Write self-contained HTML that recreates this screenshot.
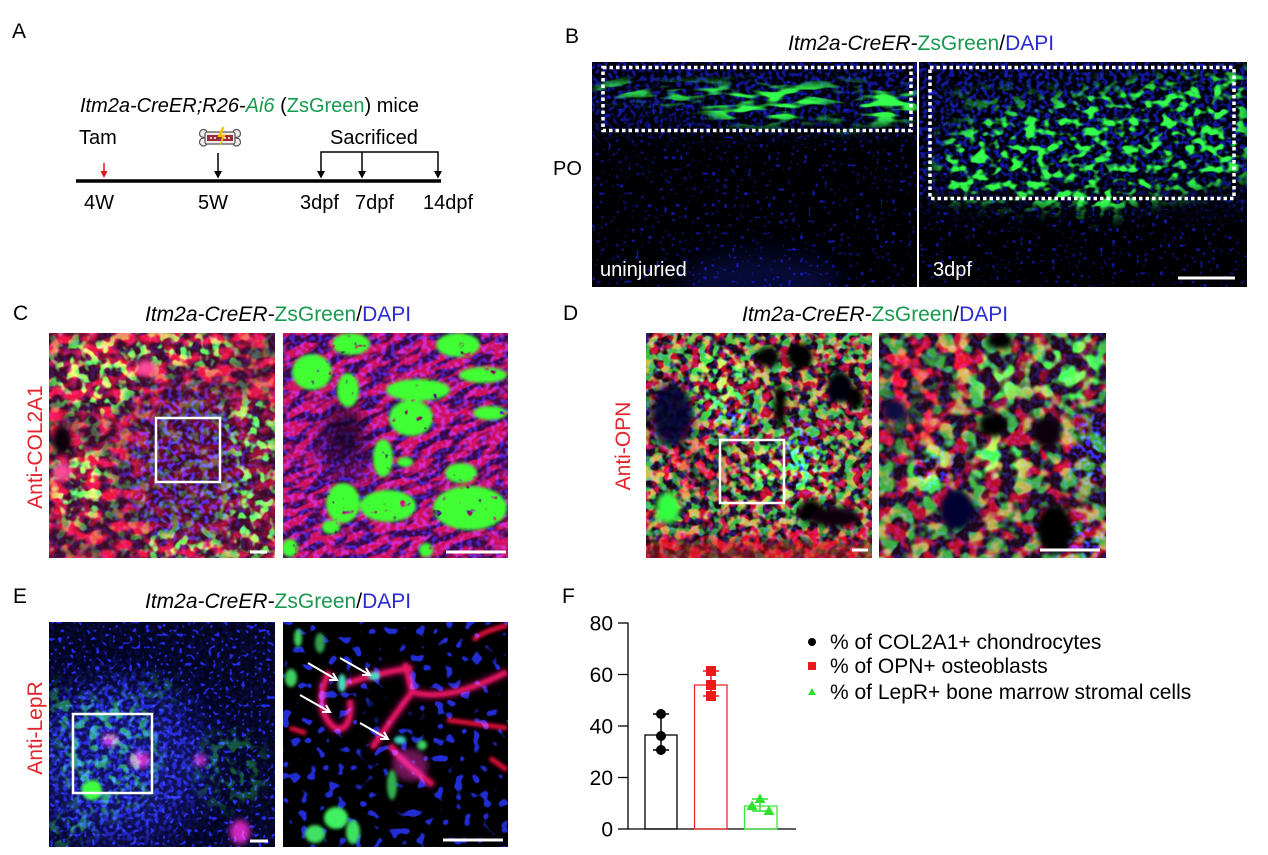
<!DOCTYPE html>
<html><head><meta charset="utf-8"><style>
html,body{margin:0;padding:0;background:#fff;}
svg{display:block;font-family:"Liberation Sans",Arial,sans-serif;}
</style></head><body>
<svg width="1268" height="855" viewBox="0 0 1268 855" xmlns="http://www.w3.org/2000/svg">
<defs>
 <filter id="bl2" x="-50%" y="-50%" width="200%" height="200%"><feGaussianBlur stdDeviation="1.5"/></filter>
 <filter id="bl3" x="-50%" y="-50%" width="200%" height="200%"><feGaussianBlur stdDeviation="3"/></filter>
 <filter id="bl5" x="-50%" y="-50%" width="200%" height="200%"><feGaussianBlur stdDeviation="5"/></filter>
 <filter id="bl8" x="-50%" y="-50%" width="200%" height="200%"><feGaussianBlur stdDeviation="8"/></filter>
 <filter id="bl12" x="-50%" y="-50%" width="200%" height="200%"><feGaussianBlur stdDeviation="12"/></filter>
 <filter id="bl20" x="-50%" y="-50%" width="200%" height="200%"><feGaussianBlur stdDeviation="20"/></filter>
 <linearGradient id="vfade" x1="0" y1="0" x2="0" y2="1"><stop offset="0" stop-color="#fff"/><stop offset=".6" stop-color="#fff"/><stop offset="1" stop-color="#000"/></linearGradient>

 <filter id="bDots" x="0" y="0" width="1" height="1" color-interpolation-filters="sRGB">
  <feTurbulence type="fractalNoise" baseFrequency="0.25" numOctaves="1" seed="4"/>
  <feColorMatrix type="matrix" values="0 0 0 0 .1  0 0 0 0 .13  0 0 0 0 .95  0 0 0 14 -9.1"/>
 </filter>
 <filter id="bDotsE" x="0" y="0" width="1" height="1" color-interpolation-filters="sRGB">
  <feTurbulence type="fractalNoise" baseFrequency="0.24" numOctaves="1" seed="6"/>
  <feColorMatrix type="matrix" values="0 0 0 0 .12  0 0 0 0 .15  0 0 0 0 .95  0 0 0 10 -6"/>
 </filter>
 <filter id="bDense" x="0" y="0" width="1" height="1" color-interpolation-filters="sRGB">
  <feTurbulence type="fractalNoise" baseFrequency="0.22" numOctaves="1" seed="9"/>
  <feColorMatrix type="matrix" values="0 0 0 0 .12  0 0 0 0 .15  0 0 0 0 1  0 0 0 6 -2.8"/>
 </filter>
 <filter id="bBig" x="0" y="0" width="1" height="1" color-interpolation-filters="sRGB">
  <feTurbulence type="fractalNoise" baseFrequency="0.11" numOctaves="1" seed="2"/>
  <feColorMatrix type="matrix" values="0 0 0 0 .15  0 0 0 0 .2  0 0 0 0 .95  0 0 0 14 -8.3"/>
 </filter>
 <filter id="gStreak" x="0" y="0" width="1" height="1" color-interpolation-filters="sRGB">
  <feTurbulence type="fractalNoise" baseFrequency="0.03 0.12" numOctaves="2" seed="5"/>
  <feColorMatrix type="matrix" values="0 0 0 0 .2  0 0 0 0 1  0 0 0 0 .3  0 0 0 7 -3.4"/>
 </filter>
 <filter id="gB" x="0" y="0" width="1" height="1" color-interpolation-filters="sRGB">
  <feTurbulence type="fractalNoise" baseFrequency="0.08 0.11" numOctaves="2" seed="7"/>
  <feColorMatrix type="matrix" values="0 0 0 0 .2  0 0 0 0 1  0 0 0 0 .3  0 0 0 6 -3.0"/>
 </filter>
 <filter id="gCell" x="0" y="0" width="1" height="1" color-interpolation-filters="sRGB">
  <feTurbulence type="fractalNoise" baseFrequency="0.1" numOctaves="2" seed="3"/>
  <feColorMatrix type="matrix" values="0 0 0 0 .2  0 0 0 0 1  0 0 0 0 .25  0 0 0 6 -2.9"/>
 </filter>
 <filter id="gBig" x="0" y="0" width="1" height="1" color-interpolation-filters="sRGB">
  <feTurbulence type="fractalNoise" baseFrequency="0.12" numOctaves="2" seed="11"/>
  <feColorMatrix type="matrix" values="0 0 0 0 .25  0 0 0 0 1  0 0 0 0 .2  0 0 0 8 -1.6"/>
 </filter>
 <filter id="rTex" x="0" y="0" width="1" height="1" color-interpolation-filters="sRGB">
  <feTurbulence type="fractalNoise" baseFrequency="0.06 0.09" numOctaves="2" seed="8"/>
  <feColorMatrix type="matrix" values="0 0 0 0 .92  0 0 0 0 .05  0 0 0 0 .12  0 0 0 4 -1.6"/>
 </filter>
 <filter id="rStreak" x="0" y="0" width="1" height="1" color-interpolation-filters="sRGB">
  <feTurbulence type="fractalNoise" baseFrequency="0.05 0.13" numOctaves="2" seed="12"/>
  <feColorMatrix type="matrix" values="0 0 0 0 .95  0 0 0 0 .05  0 0 0 0 .15  0 0 0 5 -1.9"/>
 </filter>
 <filter id="gD" x="0" y="0" width="1" height="1" color-interpolation-filters="sRGB">
  <feTurbulence type="fractalNoise" baseFrequency="0.11" numOctaves="2" seed="13"/>
  <feColorMatrix type="matrix" values="0 0 0 0 .2  0 0 0 0 1  0 0 0 0 .25  0 0 0 6 -2.6"/>
 </filter>
 <filter id="rD" x="0" y="0" width="1" height="1" color-interpolation-filters="sRGB">
  <feTurbulence type="fractalNoise" baseFrequency="0.1" numOctaves="2" seed="14"/>
  <feColorMatrix type="matrix" values="0 0 0 0 .95  0 0 0 0 .04  0 0 0 0 .1  0 0 0 6 -2.6"/>
 </filter>
 <filter id="gDR" x="0" y="0" width="1" height="1" color-interpolation-filters="sRGB">
  <feTurbulence type="fractalNoise" baseFrequency="0.065" numOctaves="2" seed="15"/>
  <feColorMatrix type="matrix" values="0 0 0 0 .2  0 0 0 0 1  0 0 0 0 .25  0 0 0 6 -2.7"/>
 </filter>
 <filter id="rDR" x="0" y="0" width="1" height="1" color-interpolation-filters="sRGB">
  <feTurbulence type="fractalNoise" baseFrequency="0.065" numOctaves="2" seed="16"/>
  <feColorMatrix type="matrix" values="0 0 0 0 .95  0 0 0 0 .04  0 0 0 0 .1  0 0 0 6 -2.7"/>
 </filter>

 <clipPath id="cB1"><rect x="592" y="62" width="325" height="225"/></clipPath>
 <clipPath id="cB2"><rect x="919" y="62" width="328" height="225"/></clipPath>
 <clipPath id="cC1"><rect x="49" y="333" width="226" height="225"/></clipPath>
 <clipPath id="cC2"><rect x="283" y="333" width="225" height="225"/></clipPath>
 <clipPath id="cD1"><rect x="646" y="333" width="226" height="225"/></clipPath>
 <clipPath id="cD2"><rect x="879" y="333" width="227" height="225"/></clipPath>
 <clipPath id="cE1"><rect x="49" y="622" width="226" height="225"/></clipPath>
 <clipPath id="cE2"><rect x="283" y="622" width="225" height="225"/></clipPath>

 <mask id="mB1g"><g filter="url(#bl5)" fill="#fff">
  <ellipse cx="770" cy="93" rx="150" ry="10"/>
  <ellipse cx="765" cy="110" rx="60" ry="14"/>
  <ellipse cx="880" cy="105" rx="40" ry="20"/>
  <ellipse cx="620" cy="90" rx="25" ry="8"/>
  <ellipse cx="680" cy="103" rx="30" ry="8" fill="#aaa"/>
  <ellipse cx="840" cy="122" rx="30" ry="8" fill="#888"/>
 </g></mask>
 <mask id="mB1b"><rect x="592" y="62" width="325" height="85" fill="url(#vfade)"/></mask>
 <mask id="mB2g"><g filter="url(#bl8)">
  <polygon fill="#fff" points="935,140 990,112 1050,94 1150,80 1250,68 1250,178 1200,192 1140,202 1105,218 1050,208 990,202 940,198"/>
  <ellipse cx="1000" cy="100" rx="60" ry="12" fill="#666"/>
 </g></mask>
 <mask id="mB2b"><rect x="919" y="62" width="328" height="165" fill="url(#vfade)"/></mask>

 <mask id="mC1r"><rect x="49" y="333" width="226" height="225" fill="#fff"/><g filter="url(#bl12)"><ellipse cx="190" cy="465" rx="55" ry="75" fill="#555"/><ellipse cx="250" cy="480" rx="25" ry="80" fill="#888"/></g></mask>
 <mask id="mC1b"><rect x="49" y="333" width="226" height="225" fill="#444"/><g filter="url(#bl12)"><ellipse cx="185" cy="465" rx="60" ry="80" fill="#ddd"/></g></mask>
 <mask id="mC1g"><rect x="49" y="333" width="226" height="225" fill="#555"/><g filter="url(#bl8)" fill="#fff">
  <rect x="228" y="400" width="50" height="160"/>
  <ellipse cx="95" cy="375" rx="45" ry="40"/>
  <ellipse cx="180" cy="350" rx="60" ry="18"/>
  <ellipse cx="80" cy="485" rx="30" ry="40"/>
  <ellipse cx="180" cy="548" rx="50" ry="15"/>
  <ellipse cx="190" cy="465" rx="48" ry="68" fill="#555"/>
 </g></mask>
 <mask id="mC2g"><g filter="url(#bl2)" fill="#fff">
  <ellipse cx="312" cy="372" rx="20" ry="18"/>
  <ellipse cx="351" cy="344" rx="19" ry="11"/>
  <ellipse cx="348" cy="390" rx="11" ry="17"/>
  <ellipse cx="418" cy="390" rx="32" ry="11"/>
  <ellipse cx="411" cy="418" rx="22" ry="18"/>
  <ellipse cx="383" cy="458" rx="10" ry="19"/>
  <ellipse cx="458" cy="345" rx="22" ry="12"/>
  <ellipse cx="483" cy="375" rx="24" ry="8"/>
  <ellipse cx="490" cy="413" rx="17" ry="7"/>
  <ellipse cx="461" cy="473" rx="16" ry="10"/>
  <ellipse cx="470" cy="508" rx="37" ry="22"/>
  <ellipse cx="343" cy="503" rx="17" ry="20"/>
  <ellipse cx="388" cy="506" rx="28" ry="16"/>
  <ellipse cx="331" cy="527" rx="9" ry="7"/>
  <ellipse cx="290" cy="548" rx="8" ry="9"/>
  <ellipse cx="426" cy="550" rx="7" ry="7"/>
  <ellipse cx="405" cy="462" rx="8" ry="5"/>
 </g></mask>
 <mask id="mC2r"><rect x="233" y="283" width="325" height="325" fill="#ccc"/><g filter="url(#bl8)"><ellipse cx="345" cy="430" rx="25" ry="35" fill="#333"/></g></mask>

 <mask id="mD1g"><rect x="646" y="333" width="226" height="225" fill="#bbb"/><g filter="url(#bl8)">
  <ellipse cx="722" cy="385" rx="30" ry="35" fill="#fff"/>
  <ellipse cx="790" cy="470" rx="40" ry="30" fill="#fff"/>
  <ellipse cx="672" cy="415" rx="25" ry="35" fill="#333"/>
  <ellipse cx="700" cy="470" rx="25" ry="25" fill="#555"/>
  <rect x="646" y="535" width="226" height="25" fill="#444"/>
 </g></mask>
 <mask id="mD1r"><rect x="646" y="333" width="226" height="225" fill="#ccc"/><g filter="url(#bl8)">
  <ellipse cx="690" cy="470" rx="30" ry="30" fill="#fff"/>
  <ellipse cx="672" cy="415" rx="22" ry="30" fill="#222"/>
  <ellipse cx="800" cy="440" rx="20" ry="30" fill="#666"/>
  <rect x="646" y="535" width="226" height="25" fill="#fff"/>
 </g></mask>
 <mask id="mD1b"><rect x="646" y="333" width="226" height="225" fill="#666"/><g filter="url(#bl8)">
  <ellipse cx="733" cy="422" rx="18" ry="18" fill="#fff"/>
  <ellipse cx="800" cy="455" rx="15" ry="35" fill="#fff"/>
  <ellipse cx="672" cy="415" rx="22" ry="32" fill="#aaa"/>
 </g></mask>
 <mask id="mD2r"><rect x="879" y="333" width="227" height="225" fill="#bbb"/><g filter="url(#bl8)">
  <ellipse cx="910" cy="400" rx="30" ry="60" fill="#fff"/>
  <ellipse cx="1055" cy="450" rx="18" ry="25" fill="#fff"/>
  <ellipse cx="960" cy="360" rx="25" ry="20" fill="#fff"/>
  <ellipse cx="1000" cy="380" rx="30" ry="20" fill="#444"/>
  <ellipse cx="1070" cy="365" rx="30" ry="25" fill="#444"/>
  <ellipse cx="1092" cy="450" rx="20" ry="35" fill="#333"/>
 </g></mask>
 <mask id="mD2g"><rect x="879" y="333" width="227" height="225" fill="#aaa"/><g filter="url(#bl8)">
  <ellipse cx="1000" cy="378" rx="28" ry="22" fill="#fff"/>
  <ellipse cx="998" cy="460" rx="25" ry="28" fill="#fff"/>
  <ellipse cx="1070" cy="370" rx="35" ry="35" fill="#fff"/>
  <ellipse cx="930" cy="470" rx="20" ry="25" fill="#fff"/>
  <ellipse cx="910" cy="400" rx="25" ry="50" fill="#555"/>
 </g></mask>
 <mask id="mD2b"><rect x="879" y="333" width="227" height="225" fill="#555"/><g filter="url(#bl8)">
  <ellipse cx="1090" cy="450" rx="18" ry="40" fill="#fff"/>
  <ellipse cx="1070" cy="540" rx="35" ry="20" fill="#fff"/>
  <ellipse cx="935" cy="470" rx="20" ry="20" fill="#ddd"/>
 </g></mask>

 <mask id="mE1g"><rect x="49" y="622" width="226" height="225" fill="#000"/><g filter="url(#bl8)">
  <ellipse cx="110" cy="755" rx="50" ry="60" fill="#999"/>
  <ellipse cx="62" cy="710" rx="12" ry="28" fill="#888"/>
  <ellipse cx="230" cy="770" rx="35" ry="40" fill="#555"/>
  <ellipse cx="160" cy="690" rx="22" ry="12" fill="#555"/>
  <ellipse cx="70" cy="830" rx="22" ry="18" fill="#888"/>
 </g></mask>
 <mask id="mE1b"><rect x="49" y="622" width="226" height="225" fill="#222"/><g filter="url(#bl12)">
  <ellipse cx="120" cy="760" rx="80" ry="85" fill="#ccc"/>
 </g></mask>
 <mask id="mE2b"><rect x="283" y="622" width="225" height="225" fill="#ddd"/><g filter="url(#bl5)">
  <ellipse cx="388" cy="708" rx="20" ry="17" fill="#000"/>
 </g></mask>
</defs>

<rect x="0" y="0" width="1268" height="855" fill="#fff"/>

<!-- PANEL A -->
<text x="12" y="38" font-size="21">A</text>
<text x="80" y="112" font-size="20"><tspan font-style="italic">Itm2a-CreER;R26-</tspan><tspan font-style="italic" fill="#189a4e">Ai6</tspan> (<tspan fill="#189a4e">ZsGreen</tspan>) mice</text>
<text x="79" y="144" font-size="20">Tam</text>
<text x="330" y="144" font-size="20">Sacrificed</text>
<g>
 <circle cx="203.5" cy="133.5" r="4" fill="#f3ecec" stroke="#555" stroke-width="1.2"/>
 <circle cx="203.5" cy="142" r="4" fill="#f3ecec" stroke="#555" stroke-width="1.2"/>
 <circle cx="236.5" cy="133.5" r="4" fill="#f3ecec" stroke="#555" stroke-width="1.2"/>
 <circle cx="236.5" cy="142" r="4" fill="#f3ecec" stroke="#555" stroke-width="1.2"/>
 <rect x="205" y="132" width="30" height="12" rx="2" fill="#f3ecec" stroke="#555" stroke-width="1.2"/>
 <rect x="207" y="135" width="26" height="6" fill="#9a2c3a"/>
 <circle cx="211" cy="138" r="1" fill="#fff"/><circle cx="215" cy="138" r="1" fill="#fff"/><circle cx="225" cy="138" r="1" fill="#fff"/><circle cx="229" cy="138" r="1" fill="#fff"/>
 <polygon points="222,127 217.5,137 222,137 218.5,148 226,134.5 221.5,134.5 224.5,127" fill="#f2c200"/>
</g>
<line x1="76" y1="181" x2="441" y2="181" stroke="#000" stroke-width="3.5"/>
<line x1="104" y1="163" x2="104" y2="172" stroke="#e8131b" stroke-width="1.5"/>
<polygon points="100.5,171 107.5,171 104,178" fill="#e8131b"/>
<line x1="218" y1="153" x2="218" y2="172" stroke="#000" stroke-width="1.5"/>
<polygon points="214,171 222,171 218,178.5" fill="#000"/>
<path d="M321,172 V152 H438 V172 M362,152 V172" fill="none" stroke="#000" stroke-width="1.5"/>
<polygon points="317,171 325,171 321,178.5" fill="#000"/>
<polygon points="358,171 366,171 362,178.5" fill="#000"/>
<polygon points="434,171 442,171 438,178.5" fill="#000"/>
<text x="84" y="209" font-size="20">4W</text>
<text x="198" y="209" font-size="20">5W</text>
<text x="300" y="209" font-size="20">3dpf</text>
<text x="355" y="209" font-size="20">7dpf</text>
<text x="423" y="209" font-size="20">14dpf</text>

<!-- PANEL B -->
<text x="565" y="43" font-size="21">B</text>
<text x="788" y="50" font-size="21"><tspan font-style="italic">Itm2a-CreER-</tspan><tspan fill="#189a4e">ZsGreen</tspan>/<tspan fill="#2a2ad2">DAPI</tspan></text>
<text x="553" y="175" font-size="20">PO</text>

<g clip-path="url(#cB1)">
 <rect x="592" y="62" width="325" height="225" fill="#010104"/>
 <ellipse cx="760" cy="282" rx="80" ry="28" fill="#0a1878" opacity=".45" filter="url(#bl12)"/>
 <rect x="592" y="62" width="325" height="225" filter="url(#bDots)" opacity=".7"/>
 <rect x="592" y="62" width="325" height="85" filter="url(#bDense)" mask="url(#mB1b)" opacity=".55"/>
 <rect x="592" y="62" width="325" height="85" filter="url(#gStreak)" mask="url(#mB1g)"/>
</g>
<g clip-path="url(#cB2)">
 <rect x="919" y="62" width="328" height="225" fill="#010104"/>
 <rect x="919" y="62" width="328" height="225" filter="url(#bDots)" opacity=".7"/>
 <rect x="919" y="62" width="328" height="165" filter="url(#bDense)" mask="url(#mB2b)" opacity=".6"/>
 <rect x="919" y="62" width="328" height="170" filter="url(#gB)" mask="url(#mB2g)"/>
</g>
<rect x="603" y="67.5" width="308" height="63" fill="none" stroke="#fff" stroke-width="3.5" stroke-dasharray="3.5 3"/>
<rect x="930" y="67.5" width="304" height="131" fill="none" stroke="#fff" stroke-width="3.5" stroke-dasharray="3.5 3"/>
<text x="600" y="276" font-size="20" fill="#fff">uninjuried</text>
<text x="933" y="276" font-size="20" fill="#fff">3dpf</text>
<line x1="1178" y1="278" x2="1235" y2="278" stroke="#fff" stroke-width="3"/>

<!-- PANEL C -->
<text x="13" y="320" font-size="21">C</text>
<text x="145" y="321" font-size="21"><tspan font-style="italic">Itm2a-CreER-</tspan><tspan fill="#189a4e">ZsGreen</tspan>/<tspan fill="#2a2ad2">DAPI</tspan></text>
<text transform="translate(42,447) rotate(-90)" text-anchor="middle" font-size="21" fill="#e4242c">Anti-COL2A1</text>

<g clip-path="url(#cC1)" style="isolation:isolate">
 <rect x="49" y="333" width="226" height="225" fill="#3c0a26"/>
 <rect x="49" y="333" width="226" height="225" filter="url(#rTex)" mask="url(#mC1r)" style="mix-blend-mode:screen"/>
 <rect x="49" y="333" width="226" height="225" filter="url(#bDense)" mask="url(#mC1b)" style="mix-blend-mode:screen"/>
 <rect x="49" y="333" width="226" height="225" filter="url(#gCell)" mask="url(#mC1g)" style="mix-blend-mode:screen"/>
 <g filter="url(#bl3)">
  <ellipse cx="146" cy="368" rx="10" ry="8" fill="#ff4a9a"/>
  <ellipse cx="62" cy="472" rx="9" ry="9" fill="#ff4a9a"/>
  <ellipse cx="62" cy="440" rx="10" ry="14" fill="#080008"/>
 </g>
</g>
<rect x="156" y="418" width="64" height="64" fill="none" stroke="#fff" stroke-width="2.5"/>
<line x1="250" y1="552" x2="267" y2="552" stroke="#fff" stroke-width="3"/>

<g clip-path="url(#cC2)" style="isolation:isolate">
 <rect x="283" y="333" width="225" height="225" fill="#3a0848"/>
 <rect x="233" y="283" width="325" height="325" transform="rotate(-25 395 445)" filter="url(#rStreak)" mask="url(#mC2r)" style="mix-blend-mode:screen"/>
 <rect x="283" y="333" width="225" height="225" filter="url(#bDense)" opacity=".7" style="mix-blend-mode:screen"/>
 <ellipse cx="345" cy="432" rx="18" ry="28" fill="#0a0018" opacity=".65" filter="url(#bl8)"/>
 <rect x="283" y="333" width="225" height="225" filter="url(#gBig)" mask="url(#mC2g)"/>
</g>
<line x1="446" y1="552" x2="506" y2="552" stroke="#fff" stroke-width="3"/>

<!-- PANEL D -->
<text x="563" y="320" font-size="21">D</text>
<text x="742" y="321" font-size="21"><tspan font-style="italic">Itm2a-CreER-</tspan><tspan fill="#189a4e">ZsGreen</tspan>/<tspan fill="#2a2ad2">DAPI</tspan></text>
<text transform="translate(630,446) rotate(-90)" text-anchor="middle" font-size="21" fill="#e4242c">Anti-OPN</text>

<g clip-path="url(#cD1)" style="isolation:isolate">
 <rect x="646" y="333" width="226" height="225" fill="#1a0612"/>
 <rect x="646" y="333" width="226" height="225" filter="url(#rD)" mask="url(#mD1r)" style="mix-blend-mode:screen"/>
 <rect x="646" y="333" width="226" height="225" filter="url(#gD)" mask="url(#mD1g)" style="mix-blend-mode:screen"/>
 <rect x="646" y="333" width="226" height="225" filter="url(#bDense)" mask="url(#mD1b)" style="mix-blend-mode:screen"/>
 <g filter="url(#bl3)">
  <ellipse cx="672" cy="415" rx="20" ry="30" fill="#06062a" opacity=".8"/>
  <ellipse cx="768" cy="357" rx="12" ry="10" fill="#000"/>
  <ellipse cx="800" cy="356" rx="13" ry="13" fill="#000"/>
  <ellipse cx="840" cy="387" rx="13" ry="16" fill="#050010"/>
  <ellipse cx="780" cy="406" rx="6" ry="22" fill="#000"/>
  <ellipse cx="856" cy="398" rx="8" ry="11" fill="#000"/>
  <ellipse cx="811" cy="511" rx="12" ry="12" fill="#000"/>
  <ellipse cx="835" cy="517" rx="25" ry="10" fill="#100010"/>
  <rect x="646" y="542" width="226" height="20" fill="#c0101a" opacity=".45"/>
  <ellipse cx="668" cy="508" rx="12" ry="16" fill="#30ff40"/>
 </g>
</g>
<rect x="720" y="440" width="64" height="63" fill="none" stroke="#fff" stroke-width="2.5"/>
<line x1="852" y1="550" x2="868" y2="550" stroke="#fff" stroke-width="3"/>

<g clip-path="url(#cD2)" style="isolation:isolate">
 <rect x="879" y="333" width="227" height="225" fill="#200818"/>
 <rect x="879" y="333" width="227" height="225" filter="url(#rDR)" mask="url(#mD2r)" style="mix-blend-mode:screen"/>
 <rect x="879" y="333" width="227" height="225" filter="url(#gDR)" mask="url(#mD2g)" style="mix-blend-mode:screen"/>
 <rect x="879" y="333" width="227" height="225" filter="url(#bDense)" mask="url(#mD2b)" style="mix-blend-mode:screen"/>
 <g filter="url(#bl3)">
  <ellipse cx="993" cy="425" rx="14" ry="12" fill="#000"/>
  <ellipse cx="1047" cy="433" rx="14" ry="16" fill="#100008"/>
  <ellipse cx="1055" cy="530" rx="18" ry="25" fill="#000"/>
  <ellipse cx="957" cy="510" rx="17" ry="20" fill="#050530"/>
  <ellipse cx="1000" cy="341" rx="13" ry="8" fill="#000"/>
  <ellipse cx="895" cy="411" rx="12" ry="11" fill="#0a0a40"/>
 </g>
</g>
<line x1="1040" y1="550" x2="1100" y2="550" stroke="#fff" stroke-width="3"/>

<!-- PANEL E -->
<text x="13" y="603" font-size="21">E</text>
<text x="145" y="608" font-size="21"><tspan font-style="italic">Itm2a-CreER-</tspan><tspan fill="#189a4e">ZsGreen</tspan>/<tspan fill="#2a2ad2">DAPI</tspan></text>
<text transform="translate(42,728) rotate(-90)" text-anchor="middle" font-size="21" fill="#e4242c">Anti-LepR</text>

<g clip-path="url(#cE1)" style="isolation:isolate">
 <rect x="49" y="622" width="226" height="225" fill="#04051e"/>
 <ellipse cx="120" cy="765" rx="90" ry="80" fill="#1a1a90" opacity=".55" filter="url(#bl20)"/>
 <rect x="49" y="622" width="226" height="225" filter="url(#bDotsE)" style="mix-blend-mode:screen"/>
 <rect x="49" y="622" width="226" height="225" filter="url(#bDense)" mask="url(#mE1b)" style="mix-blend-mode:screen"/>
 <rect x="49" y="622" width="226" height="225" filter="url(#gCell)" mask="url(#mE1g)" style="mix-blend-mode:screen"/>
 <g filter="url(#bl3)" style="mix-blend-mode:screen">
  <ellipse cx="140" cy="760" rx="10" ry="8" fill="#d020b0"/>
  <ellipse cx="110" cy="740" rx="8" ry="6" fill="#d020b0"/>
  <ellipse cx="240" cy="832" rx="10" ry="12" fill="#d020b0"/>
  <ellipse cx="200" cy="760" rx="6" ry="6" fill="#c020b0"/>
 </g>
 <ellipse cx="92" cy="790" rx="10" ry="10" fill="#40ff40" filter="url(#bl2)"/>
</g>
<rect x="73" y="714" width="79" height="79" fill="none" stroke="#fff" stroke-width="2.5"/>
<line x1="250" y1="841" x2="268" y2="841" stroke="#fff" stroke-width="3"/>

<g clip-path="url(#cE2)" style="isolation:isolate">
 <rect x="283" y="622" width="225" height="225" fill="#000"/>
 <rect x="283" y="622" width="225" height="225" filter="url(#bBig)" mask="url(#mE2b)"/>
 <g fill="none" stroke="#c8106a" stroke-width="9" opacity=".55" filter="url(#bl3)" style="mix-blend-mode:screen">
  <path d="M340,686 C360,678 385,672 412,668"/>
  <path d="M405,663 L412,692 L395,715 L372,748"/>
  <path d="M412,692 C440,700 470,690 507,672"/>
  <path d="M330,672 C318,690 318,715 335,728 C345,732 352,722 350,700"/>
  <path d="M390,745 C400,760 420,775 433,785"/>
 </g>
 <g fill="none" stroke="#e0103a" stroke-width="5" filter="url(#bl2)" style="mix-blend-mode:screen">
  <path d="M340,686 C360,678 385,672 412,668"/>
  <path d="M405,663 L412,692 L395,715 L372,748"/>
  <path d="M412,692 C440,700 470,690 507,672"/>
  <path d="M447,720 L507,728"/>
  <path d="M330,672 C318,690 318,715 335,728 C345,732 352,722 350,700"/>
  <path d="M390,745 C400,760 420,775 433,785"/>
  <path d="M473,640 C485,630 500,628 507,625"/>
  <path d="M490,758 L507,770"/>
  <path d="M290,728 L306,733"/>
 </g>
 <ellipse cx="410" cy="765" rx="18" ry="16" fill="#b0208a" opacity=".6" filter="url(#bl3)" style="mix-blend-mode:screen"/>
 <g filter="url(#bl2)">
  <ellipse cx="336" cy="818" rx="12" ry="11" fill="#40f060"/>
  <ellipse cx="315" cy="834" rx="10" ry="9" fill="#40e060"/>
  <ellipse cx="353" cy="832" rx="7" ry="12" fill="#40e060"/>
  <ellipse cx="392" cy="785" rx="5" ry="15" fill="#30b050"/>
  <ellipse cx="291" cy="678" rx="6" ry="9" fill="#40d060"/>
  <ellipse cx="298" cy="638" rx="4" ry="9" fill="#40d060"/>
  <ellipse cx="320" cy="643" rx="5" ry="10" fill="#30a050"/>
  <ellipse cx="422" cy="745" rx="5" ry="5" fill="#40d060"/>
  <ellipse cx="342" cy="683" rx="4" ry="9" fill="#40e0c0"/>
  <ellipse cx="374" cy="676" rx="6" ry="4" fill="#40e0c0"/>
  <ellipse cx="400" cy="740" rx="6" ry="4" fill="#40d0c0"/>
 </g>
</g>
<g fill="none" stroke="#fff" stroke-width="2">
 <line x1="308" y1="663" x2="337" y2="680"/><polyline points="333,673 337,680 329,680"/>
 <line x1="340" y1="658" x2="370" y2="675"/><polyline points="366,668 370,675 362,675"/>
 <line x1="300" y1="695" x2="330" y2="712"/><polyline points="326,705 330,712 322,712"/>
 <line x1="360" y1="723" x2="388" y2="739"/><polyline points="384,732 388,739 380,739"/>
</g>
<line x1="443" y1="840" x2="503" y2="840" stroke="#fff" stroke-width="3"/>

<!-- PANEL F -->
<text x="562" y="603" font-size="21">F</text>
<g stroke="#000" stroke-width="1.3" fill="none">
 <line x1="628" y1="622.5" x2="628" y2="829"/>
 <line x1="627.5" y1="829" x2="796" y2="829"/>
 <line x1="618" y1="623" x2="628" y2="623"/>
 <line x1="618" y1="674.5" x2="628" y2="674.5"/>
 <line x1="618" y1="726" x2="628" y2="726"/>
 <line x1="618" y1="777.5" x2="628" y2="777.5"/>
 <line x1="618" y1="829" x2="628" y2="829"/>
</g>
<g font-size="21" text-anchor="end">
 <text x="613" y="630.5">80</text>
 <text x="613" y="682">60</text>
 <text x="613" y="733.5">40</text>
 <text x="613" y="785">20</text>
 <text x="613" y="836.5">0</text>
</g>
<rect x="645" y="735" width="32" height="94" fill="none" stroke="#000" stroke-width="1.3"/>
<rect x="694.5" y="685" width="32.5" height="144" fill="none" stroke="#ee2a2a" stroke-width="1.3"/>
<rect x="744.5" y="806" width="32.5" height="23" fill="none" stroke="#3de83d" stroke-width="1.3"/>
<g stroke="#000" stroke-width="1.5">
 <line x1="661" y1="714" x2="661" y2="750"/>
 <line x1="653" y1="714" x2="669" y2="714"/>
 <line x1="653" y1="750" x2="669" y2="750"/>
</g>
<circle cx="661" cy="714" r="5" fill="#000"/>
<circle cx="661" cy="736" r="5" fill="#000"/>
<circle cx="661" cy="750" r="5" fill="#000"/>
<g stroke="#e81a1a" stroke-width="1.5">
 <line x1="711" y1="671" x2="711" y2="696"/>
 <line x1="703" y1="671" x2="719" y2="671"/>
 <line x1="703" y1="696" x2="719" y2="696"/>
</g>
<rect x="706" y="666" width="10" height="10" fill="#e81a1a"/>
<rect x="706" y="680" width="10" height="10" fill="#e81a1a"/>
<rect x="706" y="691" width="10" height="10" fill="#e81a1a"/>
<g stroke="#2ee02e" stroke-width="1.5">
 <line x1="760" y1="799" x2="760" y2="811"/>
 <line x1="752" y1="799" x2="768" y2="799"/>
 <line x1="752" y1="811" x2="768" y2="811"/>
</g>
<polygon points="760,793.5 765.5,803 754.5,803" fill="#2ee02e"/>
<polygon points="752,800.5 757.5,810 746.5,810" fill="#2ee02e"/>
<polygon points="769,805.5 774.5,815 763.5,815" fill="#2ee02e"/>
<circle cx="812" cy="642" r="4" fill="#000"/>
<rect x="808" y="662" width="8" height="8" fill="#e81a1a"/>
<polygon points="812,688 816,695 808,695" fill="#2ee02e"/>
<g font-size="21">
 <text x="830" y="649">% of COL2A1+ chondrocytes</text>
 <text x="830" y="673">% of OPN+ osteoblasts</text>
 <text x="830" y="699">% of LepR+ bone marrow stromal cells</text>
</g>
</svg>
</body></html>
